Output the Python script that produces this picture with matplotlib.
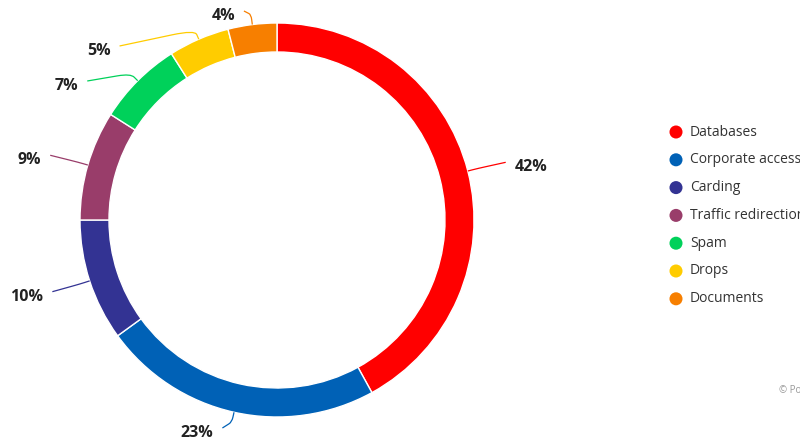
import numpy as np
import matplotlib
matplotlib.use('Agg')
import matplotlib.pyplot as plt
from matplotlib.path import Path
from matplotlib.patches import PathPatch

plt.rcParams['font.family'] = ['Open Sans', 'DejaVu Sans']

categories = ['Databases', 'Corporate access', 'Carding', 'Traffic redirection',
              'Spam', 'Drops', 'Documents']
shares = [42, 23, 10, 9, 7, 5, 4]
colors = ['#FF0000', '#0061B6', '#333393', '#993D6A', '#00D15A', '#FFCC00', '#F77F00']
credit = '© Positive Technologies'

W, H = 800, 445
fig = plt.figure(figsize=(8, 4.45), dpi=100)
ax = fig.add_axes([0, 0, 1, 1])

CX, CY = 277, 220          # pixel coords, y down
R, RING = 197, 29
LD = 35                    # label distance
TOP, BOT, GAP = 16, 433, 35
OFF = 13


def fy(y):
    return H - y


ax.pie(shares, colors=colors, startangle=90, counterclock=False,
       center=(CX, fy(CY)), radius=R,
       wedgeprops=dict(width=RING, edgecolor='white', linewidth=1))
ax.set_xlim(0, W)
ax.set_ylim(0, H)
ax.set_aspect('equal')
ax.axis('off')

# ---- data label layout (Highcharts-like) ----
total = float(sum(shares))
cum = np.cumsum([0] + shares)
mid = (cum[:-1] + cum[1:]) / 2 / total * 2 * np.pi
RL = R + LD
info = []
for i, t in enumerate(mid):
    info.append(dict(i=i, t=t, left=np.sin(t) < 0,
                     ax=CX + RL * np.sin(t),
                     ay=CY - RL * np.cos(t) + 5))

for side in (True, False):
    items = sorted([d for d in info if d['left'] == side], key=lambda d: d['ay'])
    prev = None
    for d in items:
        y = d['ay']
        mode = 'angle'
        if y < TOP:
            y = TOP
        elif y > BOT:
            y = BOT
        if prev is not None and y < prev + GAP:
            y = prev + GAP
            mode = 'circle'
        d['y'] = y
        if mode == 'circle':
            dy = (y - 5) - CY
            dx = np.sqrt(max(RL ** 2 - dy ** 2, 0))
            d['x'] = CX - dx if side else CX + dx
        else:
            d['x'] = d['ax']
        prev = y

for d in info:
    i, t = d['i'], d['t']
    sgn = -1 if d['left'] else 1
    p0 = (CX + R * np.sin(t), CY - R * np.cos(t))
    p1 = (CX + (R + 10) * np.sin(t), CY - (R + 10) * np.cos(t))
    p3 = (d['x'] + sgn * 4, d['y'] - 5)
    pa = (p0[0] + 0.5 * (p1[0] - p0[0]), p0[1] + 0.5 * (p1[1] - p0[1]))
    pb = (p1[0] + 0.3 * (p3[0] - p1[0]), p1[1] + 0.3 * (p3[1] - p1[1]))
    verts = [p0, pa, p1, pb, p3]
    verts = [(x, fy(y)) for x, y in verts]
    codes = [Path.MOVETO, Path.LINETO, Path.CURVE3, Path.CURVE3, Path.LINETO]
    ax.add_patch(PathPatch(Path(verts, codes), fill=False,
                           edgecolor=colors[i], linewidth=0.9))
    ax.text(d['x'] + sgn * OFF, fy(d['y']), f'{shares[i]}%',
            ha='right' if d['left'] else 'left', va='center',
            fontsize=11.5, fontweight='bold', color='#222222')

# ---- legend ----
LX, LY0, LDY = 676, 132, 27.8
for i, (c, col) in enumerate(zip(categories, colors)):
    y = LY0 + i * LDY
    ax.scatter([LX], [fy(y)], s=88, color=col, edgecolors='none', zorder=3)
    ax.text(LX + 14, fy(y), c, ha='left', va='center', fontsize=10,
            color='#333333')

ax.text(779, fy(391), credit, ha='left', va='center', fontsize=7,
        color='#999999')

fig.savefig('out.png', dpi=100)
